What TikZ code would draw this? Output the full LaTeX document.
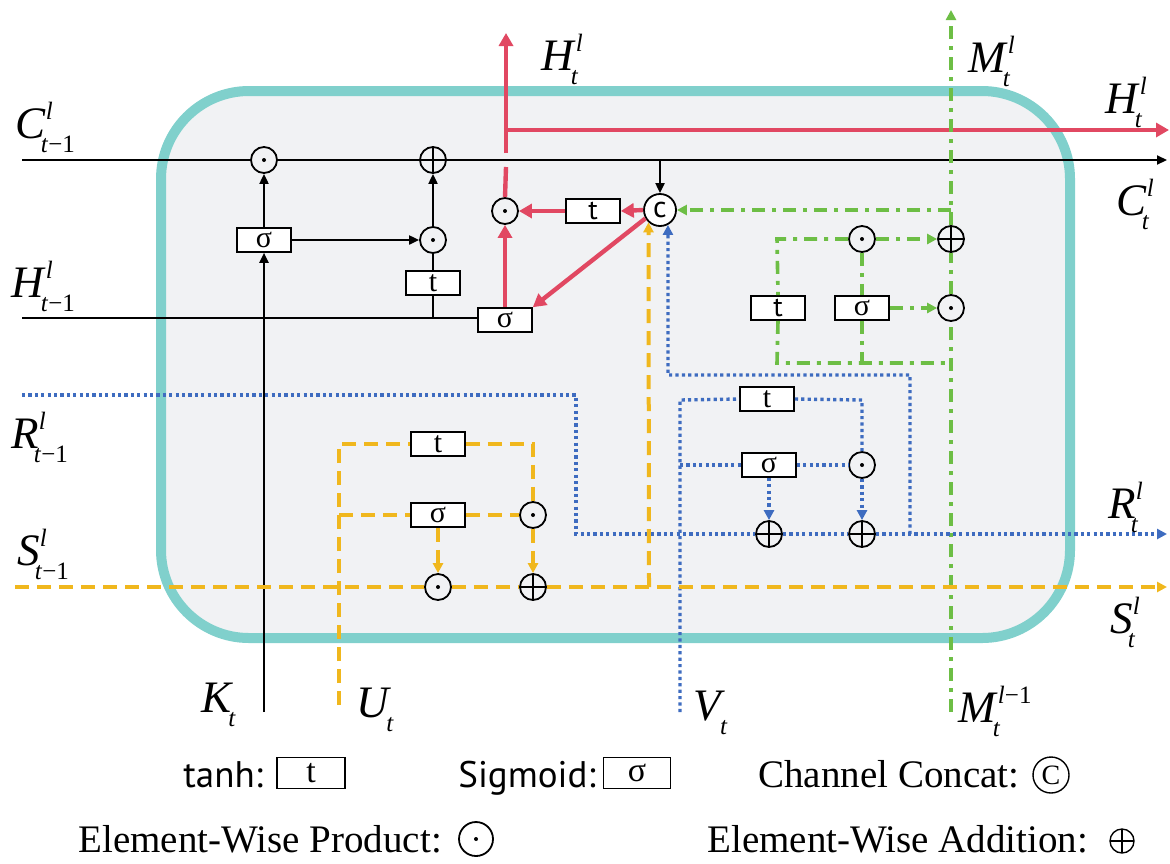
\documentclass[tikz,border=0pt]{standalone}
\usepackage{fontspec}
\setmainfont{Liberation Serif}
\newfontfamily\legsans{PT Sans}
\usetikzlibrary{arrows.meta,calc}

\definecolor{panelfill}{HTML}{F1F2F4}
\definecolor{panelrim}{HTML}{80D0CC}
\definecolor{hred}{HTML}{E14862}
\definecolor{mgreen}{HTML}{6DBE45}
\definecolor{rblue}{HTML}{3E6CC0}
\definecolor{syellow}{HTML}{F0B71D}

% script size for super/subscripts of the state symbols
\newcommand\scr{\fontsize{12.5}{12.5}\selectfont}
% symbol with a superscript (#2) and a subscript (#3)
\newcommand\lsym[3]{\textit{#1}\/\rlap{\raisebox{9.5pt}{\scr #2}}\kern-2.5pt\raisebox{-7pt}{\scr #3}}

\tikzset{
  blk/.style={line width=1pt, draw=black},
  blkarr/.style={blk, -{Triangle[length=5pt,width=4.5pt]}},
  redln/.style={line width=2.2pt, draw=hred},
  redarr/.style={redln, -{Triangle[length=6.5pt,width=7pt]}},
  grnln/.style={line width=1.8pt, draw=mgreen, dash pattern=on 6.5pt off 3.5pt on 2pt off 3.5pt},
  grnarr/.style={grnln, -{Triangle[length=5pt,width=5pt]}},
  bluln/.style={line width=1.7pt, draw=rblue, dash pattern=on 1.6pt off 1.6pt},
  bluarr/.style={bluln, -{Triangle[length=5pt,width=5pt]}},
  ylwln/.style={line width=2pt, draw=syellow, dash pattern=on 7pt off 4pt},
  ylwarr/.style={ylwln, -{Triangle[length=5pt,width=5pt]}},
  gate/.style={draw=black, fill=white, line width=0.8pt, minimum width=27pt,
    minimum height=12pt, inner sep=0pt, font=\fontsize{15}{15}\selectfont},
  sgate/.style={gate, font=\legsans\fontsize{14}{14}\selectfont},
  opc/.style={circle, draw=black, fill=panelfill, line width=0.9pt,
    minimum size=13pt, inner sep=0pt},
  prod/.style={opc, path picture={\fill[black] (path picture bounding box.center) circle (1pt);}},
  addn/.style={opc, path picture={\draw[black, line width=0.9pt]
      (path picture bounding box.north) -- (path picture bounding box.south)
      (path picture bounding box.west) -- (path picture bounding box.east);}},
  lab/.style={anchor=base west, inner sep=0pt, font=\fontsize{22.5}{22.5}\selectfont},
  legs/.style={anchor=base west, inner sep=0pt, font=\legsans\fontsize{18.5}{18.5}\selectfont},
  legr/.style={anchor=base west, inner sep=0pt, font=\fontsize{19.5}{19.5}\selectfont},
}

\begin{document}
\begin{tikzpicture}[x=0.5pt, y=-0.5pt]
\useasboundingbox (0,0) rectangle (1170,863);

% cell body
\draw[line width=5pt, draw=panelrim, fill=panelfill, rounded corners=44pt]
  (161,91) rectangle (1070,638);

% ---- operators and gates ----
% cell-state / hidden-state path
\node[prod] (m1) at (264,160) {};
\node[addn] (a1) at (433,160) {};
\node[gate] (s1) at (264,240) {σ};
\node[prod] (m2) at (433,240) {};
\node[gate] (t1) at (433,283) {t};
\node[gate] (s2) at (505,320) {σ};
\node[prod] (m3) at (505,211) {};
\node[sgate] (t2) at (593,211) {t};
\node[circle, draw=black, fill=white, line width=0.9pt, minimum size=16pt,
  inner sep=0pt, font=\legsans\fontsize{15}{15}\selectfont] (cc) at (660,210) {c};
% memory path
\node[addn] (a5) at (951,239) {};
\node[prod] (m4) at (862,239) {};
\node[prod] (m5) at (951,308) {};
\node[sgate] (t3) at (778,308) {t};
\node[gate] (s4) at (862,308) {σ};
% R path
\node[gate] (t5) at (767,399) {t};
\node[gate] (s5) at (769,465) {σ};
\node[prod] (m6) at (862,465) {};
\node[addn] (a6) at (769,534) {};
\node[addn] (a7) at (862,534) {};
% S path
\node[gate] (t6) at (438,444) {t};
\node[gate] (s6) at (438,515) {σ};
\node[prod] (m8) at (533,515) {};
\node[prod] (m7) at (438,587) {};
\node[addn] (a8) at (533,587) {};

% ---- free ends and corners ----
\coordinate (cin) at (22,160);
\coordinate (cout) at (1167,160);
\coordinate (hin) at (22,318);
\coordinate (kin) at (264,712);
\coordinate (hjoin) at (506,130);
\coordinate (htop) at (506,33);
\coordinate (hright) at (1169,130);
\coordinate (hgapb) at (506,167);
\coordinate (hgapt) at (506,153);
\coordinate (mbot) at (951,712);
\coordinate (mtop) at (951,10);
\coordinate (gleft) at (777,239);
\coordinate (gbl) at (777,363);
\coordinate (gbm) at (862,363);
\coordinate (gbr) at (951,363);
\coordinate (rin) at (22,395);
\coordinate (rturn1) at (576,395);
\coordinate (rturn2) at (576,534);
\coordinate (rout) at (1167,534);
\coordinate (vin) at (680,712);
\coordinate (vtop) at (680,400);
\coordinate (vmid) at (680,465);
\coordinate (tright) at (862,400);
\coordinate (fb1) at (910,534);
\coordinate (fb2) at (910,375);
\coordinate (fb3) at (668,375);
\coordinate (sin) at (15,587);
\coordinate (sout) at (1167,587);
\coordinate (uin) at (339,705);
\coordinate (utop) at (339,444);
\coordinate (umid) at (339,515);
\coordinate (uright) at (533,444);
\coordinate (ys) at (649,587);

% ---- black connectors ----
\draw[blk] (cin) -- (m1.west);
\draw[blk] (m1.east) -- (a1.west);
\draw[blkarr] (a1.east) -- (cout);
\draw[blkarr] (s1.north) -- (m1.south);
\draw[blkarr] (kin) -- (s1.south);
\draw[blkarr] (s1.east) -- (m2.west);
\draw[blkarr] (m2.north) -- (a1.south);
\draw[blk] (m2.south) -- (t1.north);
\draw[blk] (t1.south) -- (t1.south |- hin);
\draw[blk] (hin) -- (hin -| s2.west);
\draw[blkarr] (cc.north |- cin) -- (cc.north);

% ---- red connectors ----
\draw[redarr] (s2.north) -- (m3.south);
\draw[redarr] (cc.west) -- (t2.east);
\draw[redarr] (t2.west) -- (m3.east);
\draw[redarr] (cc.-150) -- (s2.north east);
\draw[redln] (m3.north) -- (hgapb);
\draw[redarr] (hgapt) -- (htop);
\draw[redarr] ([xshift=-1.1pt]hjoin) -- (hright);

% ---- green connectors ----
\draw[grnln] (mbot) -- (m5.south);
\draw[grnln] (m5.north) -- (a5.south);
\draw[grnarr] (a5.north) -- (mtop);
\draw[grnarr] (a5.north |- cc.east) -- (cc.east);
\draw[grnarr] (m4.east) -- (a5.west);
\draw[grnln] (m4.west) -- (gleft) -- (t3.north);
\draw[grnln] (t3.south) -- (gbl) -- (gbr);
\draw[grnln] (m4.south) -- (s4.north);
\draw[grnln] (s4.south) -- (gbm);
\draw[grnarr] (s4.east) -- (m5.west);

% ---- blue connectors ----
\draw[bluln] (rin) -- (rturn1) -- (rturn2) -- (a6.west);
\draw[bluln] (a6.east) -- (a7.west);
\draw[bluarr] (a7.east) -- (rout);
\draw[bluln] (vin) -- (vtop) -- (t5.west);
\draw[bluln] (t5.east) -- (tright) -- (m6.north);
\draw[bluln] (vmid) -- (s5.west);
\draw[bluln] (s5.east) -- (m6.west);
\draw[bluarr] (s5.south) -- (a6.north);
\draw[bluarr] (m6.south) -- (a7.north);
\draw[bluarr] (fb1) -- (fb2) -- (fb3) -- (cc.-62);

% ---- yellow connectors ----
\draw[ylwln] (sin) -- (m7.west);
\draw[ylwln] (m7.east) -- (a8.west);
\draw[ylwarr] (a8.east) -- (sout);
\draw[ylwln] (uin) -- (utop) -- (t6.west);
\draw[ylwln] (t6.east) -- (uright) -- (m8.north);
\draw[ylwln] (umid) -- (s6.west);
\draw[ylwln] (s6.east) -- (m8.west);
\draw[ylwarr] (s6.south) -- (m7.north);
\draw[ylwarr] (m8.south) -- (a8.north);
\draw[ylwarr] (ys) -- (cc.-133);

% ---- state labels ----
\node[lab] (lcin) at (15,138) {\lsym{C}{\textit{l}}{\textit{t}−1}};
\node[lab] (lhin) at (11,297) {\lsym{H}{\textit{l}}{\textit{t}−1}};
\node[lab] (lrin) at (11,448) {\lsym{R}{\textit{l}}{\textit{t}−1}};
\node[lab] (lsin) at (17,565) {\lsym{S}{\textit{l}}{\textit{t}−1}};
\node[lab] (lhtop) at (541,70) {\lsym{H}{\textit{l}}{\textit{t}}};
\node[lab] (lmout) at (968,72) {\lsym{M}{\textit{l}}{\textit{t}}};
\node[lab] (lhout) at (1105,113) {\lsym{H}{\textit{l}}{\textit{t}}};
\node[lab] (lcout) at (1116,215) {\lsym{C}{\textit{l}}{\textit{t}}};
\node[lab] (lrout) at (1108,518) {\lsym{R}{\textit{l}}{\textit{t}}};
\node[lab] (lsout) at (1110,633) {\lsym{S}{\textit{l}}{\textit{t}}};
\node[lab] (lk) at (201,712) {\lsym{K}{}{\textit{t}}};
\node[lab] (lu) at (356,717) {\lsym{U}{}{\textit{t}}};
\node[lab] (lv) at (693,720) {\lsym{V}{}{\textit{t}}};
\node[lab] (lmin) at (958,722) {\lsym{M}{\textit{l}−1}{\textit{t}}};

% ---- legend ----
\node[legs] (ltanh) at (183,787) {tanh:};
\node[gate, minimum width=34pt, minimum height=15.5pt, font=\fontsize{17}{17}\selectfont] (ltbox) at (311,773) {t};
\node[legs] (lsig) at (458,787) {Sigmoid:};
\node[gate, minimum width=33.5pt, minimum height=15.5pt, font=\fontsize{17}{17}\selectfont] (lsbox) at (637,773) {σ};
\node[legr] (lcc) at (758,787) {Channel Concat:};
\node[circle, draw=black, line width=0.7pt, minimum size=18pt, inner sep=0pt,
  font=\fontsize{14}{14}\selectfont] (lccsym) at (1051,775) {C};
\node[legr] (lprod) at (78,852) {Element-Wise Product:};
\node[prod, fill=white, minimum size=17pt] (lprodsym) at (476,839) {};
\node[legr] (ladd) at (707,852) {Element-Wise Addition:};
\node[addn, fill=white, minimum size=12pt, line width=0.7pt] (laddsym) at (1122,841) {};
\end{tikzpicture}
\end{document}
